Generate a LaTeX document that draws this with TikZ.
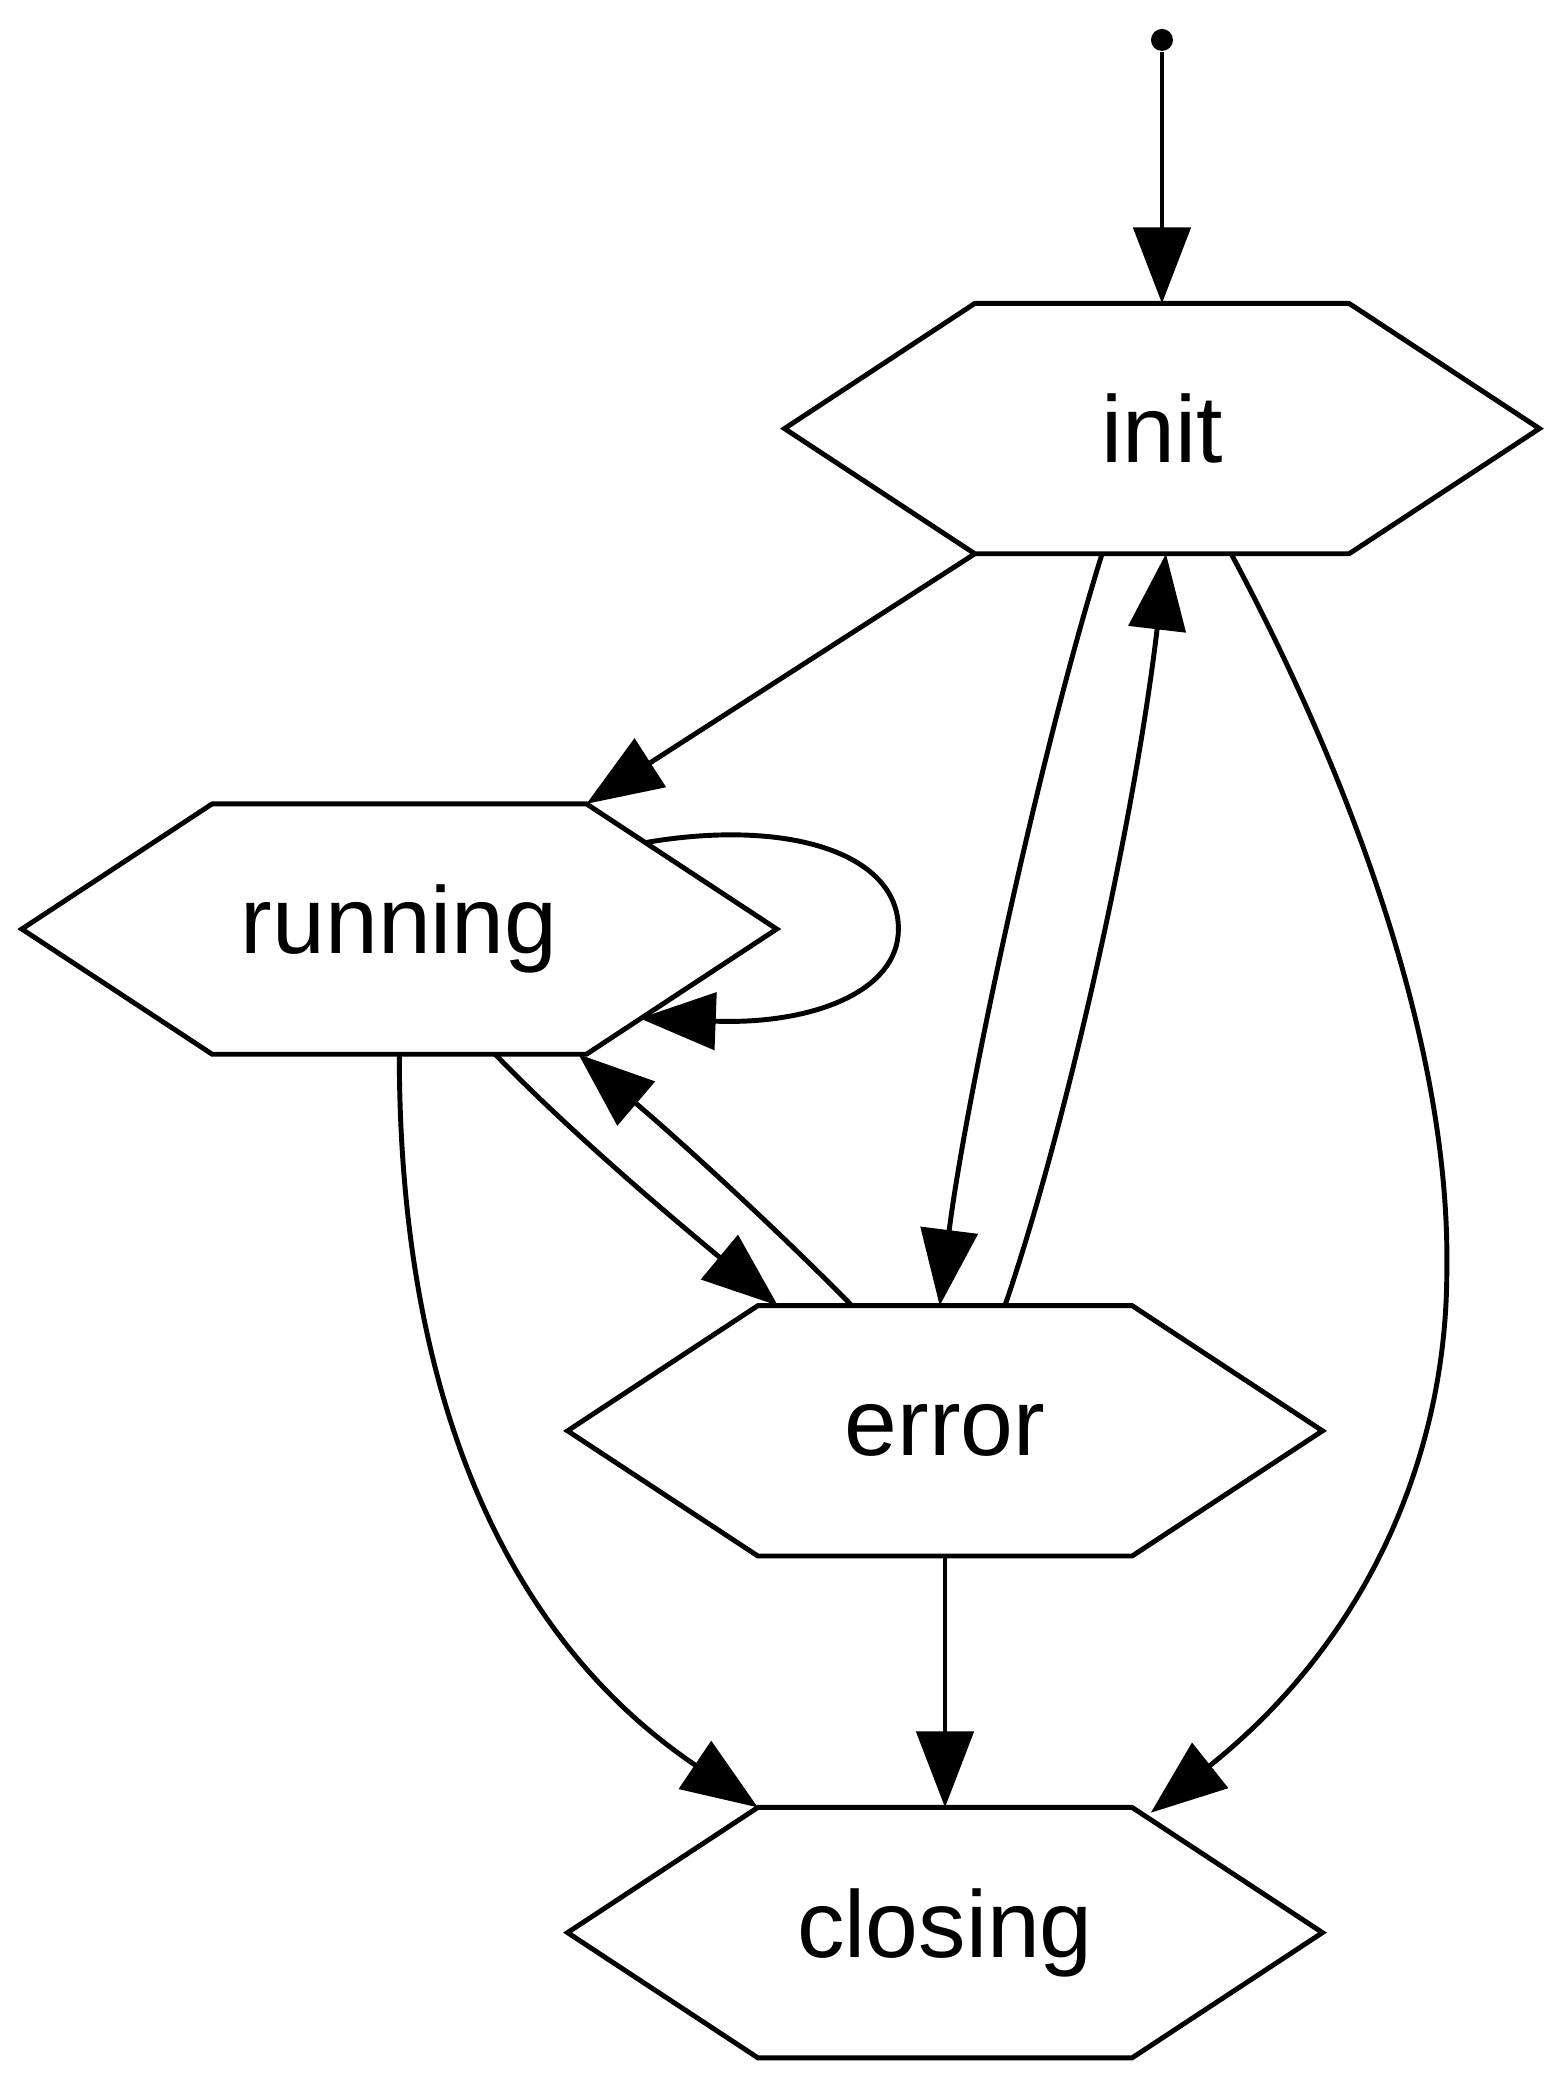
\documentclass[tikz,border=0pt]{standalone}
\usepackage{fontspec}
\setmainfont{Liberation Sans}
\usetikzlibrary{calc, arrows.meta}

\begin{document}
\begin{tikzpicture}[
  x=0.013313cm, y=-0.013313cm,
  hexa/.style={rectangle, minimum width=3.741cm, minimum height=2.503cm, inner sep=0pt, outer sep=0pt, font=\fontsize{27}{32}\selectfont},
  hexline/.style={line width=1.4pt, line join=miter},
  dot/.style={circle, fill=black, inner sep=0pt, minimum size=0.22cm},
  arr/.style={-{Triangle[length=0.76cm, width=0.57cm]}, line width=1.4pt}
]
  \useasboundingbox (0,0) rectangle (1177,1568);

  \node[dot]  (start)   at (873,30)   {};
  \node[hexa] (init)    at (873,322)  {init};
  \node[hexa] (running) at (300,698)  {running};
  \node[hexa] (error)   at (710,1075) {error};
  \node[hexa] (closing) at (710,1452) {closing};

  % hexagon outlines
  \foreach \n in {init, running, error, closing}
    \draw[hexline] (\n.north west) -- (\n.north east) -- ($(\n.east)+(143,0)$)
      -- (\n.south east) -- (\n.south west) -- ($(\n.west)+(-143,0)$) -- cycle;

  \draw[arr] (start) -- (init.north);
  \draw[arr] (init.south west) -- (running.north east);
  \draw[arr] ($(running.north east)+(45,29)$) .. controls (590,615) and (675,640) .. (675,698)
    .. controls (675,745) and (610,770) .. ($(running.south east)+(40,-27)$);
  \draw[arr] ($(init.south)+(-45,0)$) .. controls (780,570) and (725,830) .. ($(error.north)+(-4,0)$);
  \draw[arr] ($(error.north)+(45,0)$) .. controls (800,850) and (852,620) .. ($(init.south)+(3,0)$);
  \draw[arr] ($(init.south)+(52,0)$) .. controls (1010,575) and (1090,780) .. (1087,955)
    .. controls (1087,1090) and (1030,1230) .. ($(closing.north east)+(14,4)$);
  \draw[arr] ($(running.south)+(72,0)$) .. controls (430,852) and (505,915) .. ($(error.north west)+(15,0)$);
  \draw[arr] ($(error.north)+(-70,0)$) .. controls (590,930) and (520,865) .. ($(running.south east)+(-6,0)$);
  \draw[arr] (running.south) .. controls (300,1050) and (380,1230) .. (closing.north west);
  \draw[arr] (error.south) -- (closing.north);
\end{tikzpicture}
\end{document}
